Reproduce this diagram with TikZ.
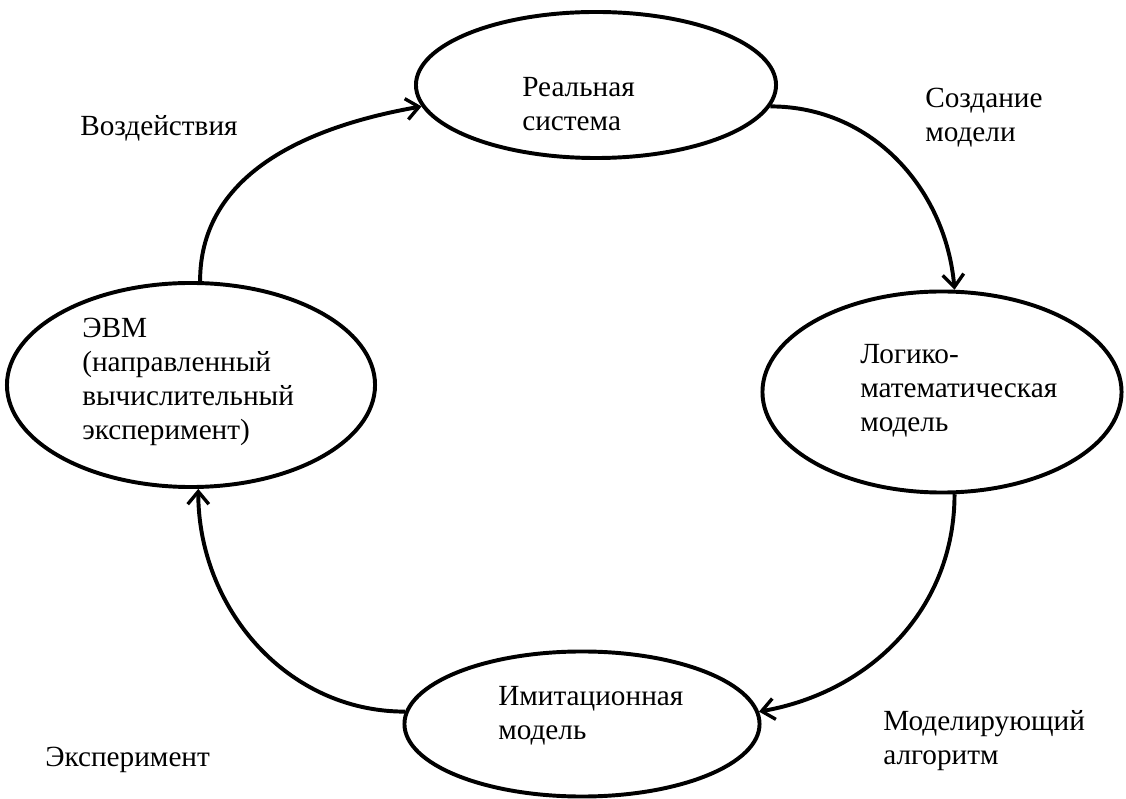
\documentclass[tikz,border=0pt]{standalone}
\usepackage{fontspec}
\setmainfont{Liberation Serif}
\usetikzlibrary{arrows.meta,shapes.geometric,positioning}
\tikzset{
  % stage of the modelling cycle
  stage/.style={
    ellipse, draw=black, line width=2.8pt,
    fill=white, inner sep=0pt
  },
  % plain text, left aligned (base = last line)
  txt/.style={
    anchor=base west, align=left, inner sep=0pt,
    font=\fontsize{20.8}{24.2}\selectfont
  },
  % curved arrows
  arr/.style={line width=2.8pt, -{Straight Barb[length=9pt,width=15pt,line width=2.4pt]}},
}

\begin{document}
\begin{tikzpicture}[x=0.025cm, y=-0.025cm]
  \useasboundingbox (0,0) rectangle (1126,799);

  %% Stages
  \node[stage, minimum width=9cm, minimum height=3.65cm] (real) at (596,85) {};
  \node[stage, minimum width=8.975cm, minimum height=5.025cm] (logic) at (942,392) {};
  \node[stage, minimum width=8.875cm, minimum height=3.625cm] (imit) at (582,724) {};
  \node[stage, minimum width=9.2cm, minimum height=5.1cm] (evm) at (191,385) {};

  %% Texts in the stages
  \node[txt] (realtxt) at (522,131) {Реальная\\система};
  \node[txt] (logictxt) at (860,432) {Логико-\\математическая\\модель};
  \node[txt] (imittxt) at (498,740) {Имитационная\\модель};
  \node[txt] (evmtxt) at (82,440) {ЭВМ\\(направленный\\вычислительный\\эксперимент)};

  %% Transitions
  \draw[arr] (evm.85) to[out=90, in=190] (real.187);
  \draw[arr] (real.353) to[out=0, in=95] (logic.83);
  \draw[arr] (logic.277) to[out=-90, in=10] (imit.4);
  \draw[arr] (imit.176) to[out=180, in=-90] (evm.274);

  %% Labels of the transitions
  \node[txt] (act) at (80,136) {Воздействия};
  \node[txt] (create) at (925,142) {Создание\\модели};
  \node[txt] (algo) at (883,765) {Моделирующий\\алгоритм};
  \node[txt] (exper) at (45,766) {Эксперимент};

\end{tikzpicture}
\end{document}
